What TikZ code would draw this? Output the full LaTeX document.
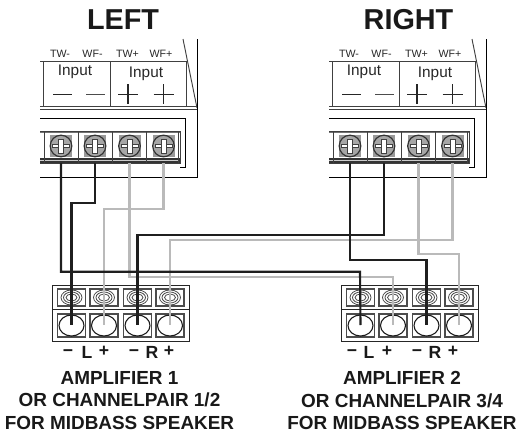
\documentclass[tikz,border=0pt]{standalone}
\usepackage{fontspec}
\setmainfont{Liberation Sans}
\usepackage{tikz}
\usetikzlibrary{calc}

\tikzset{
	panel line/.style = {draw = black!75, line width = 0.7pt},
	black wire/.style = {draw = black!88, line width = 1.6pt},
	gray wire/.style = {draw = black!27, line width = 1.6pt},
	cell/.style = {draw = black!70, line width = 0.8pt},
	side title/.style = {font = \bfseries\fontsize{21.6}{22}\selectfont, text = black!90},
	small label/.style = {font = \fontsize{8}{8}\selectfont, text = black!85},
	input label/.style = {font = \fontsize{11.5}{12}\selectfont, text = black!85},
	amp label/.style = {font = \bfseries\fontsize{14.2}{16.8}\selectfont, align = center, text = black!90},
	pole label/.style = {font = \bfseries\fontsize{13.2}{14}\selectfont, text = black!90, anchor = base},
}

\begin{document}
\begin{tikzpicture}[x = 0.75pt, y = -0.75pt]
	\useasboundingbox (0,0) rectangle (517,432);

	% the two speaker panels and the two amplifier blocks
	\foreach \side/\dx/\title/\titlex/\amp/\pair/\ampx in {L/0/LEFT/123/1/1\slash 2/119.5, R/289/RIGHT/119.5/2/3\slash 4/113} {
		\begin{scope}[shift = {(\dx,0)}]
			\node (title \side) [side title] at (\titlex,20) {\title};

			\draw [panel line] (40,61) -- (186,61);
			\draw [panel line] (43.5,61) -- (43.5,106);
			\draw [panel line] (110.5,61) -- (110.5,106);
			\draw [panel line] (186,61) -- (186,106);
			\draw [panel line] (40,106.5) -- (197,106.5);
			\draw [panel line] (40,109) -- (197,109);
			\draw [panel line] (183,39) -- (197,108);
			\draw [panel line, black] (197,39) -- (197,177) -- (40,177);
			\draw [panel line, black] (40,118) -- (185,118) -- (185,167) -- (180,167);

			\node (tw minus \side) [small label] at (60,54) {TW-};
			\node (wf minus \side) [small label] at (92.5,54) {WF-};
			\node (tw plus \side) [small label] at (127.5,54) {TW+};
			\node (wf plus \side) [small label] at (161,54) {WF+};
			\node (input minus \side) [input label] at (75,72) {Input};
			\node (input plus \side) [input label] at (146,74) {Input};

			\draw [black!85, line width = 1.3pt] (53,94.5) -- (72,94.5);
			\draw [black!70, line width = 0.8pt] (86,94.5) -- (105,94.5);
			\draw [black!85, line width = 0.8pt] (118,94.5) -- (138,94.5) (128,84) -- (128,104);
			\draw [black!85, line width = 0.8pt] (153.5,94.5) -- (173.5,94.5) (163.5,84) -- (163.5,104);

			% terminal strip
			\fill [black!55] (40,130.5) rectangle (180,133);
			\fill [black!80] (40,158) rectangle (180,163);
			\fill [black!20] (40,160) rectangle (178,161);
			\draw [panel line] (40,131) -- (180,131) -- (180,163) -- (40,163);
			\draw [panel line] (178,131) -- (178,163);
			\draw [panel line] (44.5,131) -- (44.5,163);
			\draw [panel line] (78.5,131) -- (78.5,163);
			\draw [panel line] (112.5,131) -- (112.5,163);
			\draw [panel line] (146,131) -- (146,163);
			\foreach \i/\x in {1/61, 2/95, 3/129.5, 4/163.5} {
				\fill [black!40] (\x-11,135) rectangle (\x+11,157);
				\filldraw [fill = black!35, draw = black!80, line width = 0.9pt] (\x,146) circle [radius = 10.8];
				\filldraw [fill = white, draw = black!75, line width = 0.5pt] (\x-8.5,144.7) rectangle (\x+8.5,147.3);
				\filldraw [fill = white, draw = black!75, line width = 0.5pt] (\x-2.5,139) rectangle (\x+2.5,153);
				\coordinate (screw \side\i) at (\x,163);
			}

			% amplifier block
			\draw [panel line, black!85] (52,285.5) rectangle (189,341);
			\draw [panel line, black!85] (52,309.5) -- (189,309.5);
			\foreach \i/\x in {1/71.5, 2/104, 3/137.5, 4/170} {
				\draw [cell] (\x-14,289) rectangle (\x+14,306);
				\draw [cell] (\x-14,314) rectangle (\x+14,337);
				\draw [black!70, line width = 0.6pt] (\x,297.5) circle [x radius = 10.5, y radius = 7.5];
				\draw [black!70, line width = 0.6pt] (\x,297.5) circle [x radius = 8, y radius = 5.5];
				\draw [black!70, line width = 0.6pt] (\x,297.5) circle [x radius = 5.5, y radius = 3.5];
				\draw [black!90, line width = 0.8pt] (\x,325.5) circle [x radius = 12.5, y radius = 10.5];
				\coordinate (amp \side\i) at (\x,325);
			}
			\node (amp text \side) [amp label, inner sep = 0pt] at (\ampx,400.5) {AMPLIFIER \amp\\OR CHANNELPAIR \pair\\FOR MIDBASS SPEAKER};
		\end{scope}
	}

	\foreach \n/\x/\y/\t in {a/68/356.5/−, b/87/358.5/L, c/104/356.5/+, d/134/356.5/−, e/152/358.5/R, f/169/356.5/+,
		g/352/356.5/−, h/369/358.5/L, i/387/356.5/+, j/417/356.5/−, k/435/358.5/R, l/453/356.5/+} {
		\node (pole \n) [pole label] at (\x,\y) {\t};
	}

	% wires, gray ones first
	\draw [gray wire] (screw L3) |- (393,277) -- (amp R2);
	\draw [gray wire] (screw L4) -- ++(0,46) -| (amp L2);
	\draw [gray wire] (screw R3) -- ++(0,91) -| (amp R4);
	\draw [gray wire] (screw R4) -- ++(0,77) -| (amp L4);

	\draw [black wire] (screw L1) |- (360,271.7) -- (amp R1);
	\draw [black wire] (screw L2) -- ++(0,40) -| (amp L1);
	\draw [black wire] (screw R1) -- ++(0,97) -| (amp R3);
	\draw [black wire] (screw R2) -- ++(0,72) -| (amp L3);
\end{tikzpicture}
\end{document}
